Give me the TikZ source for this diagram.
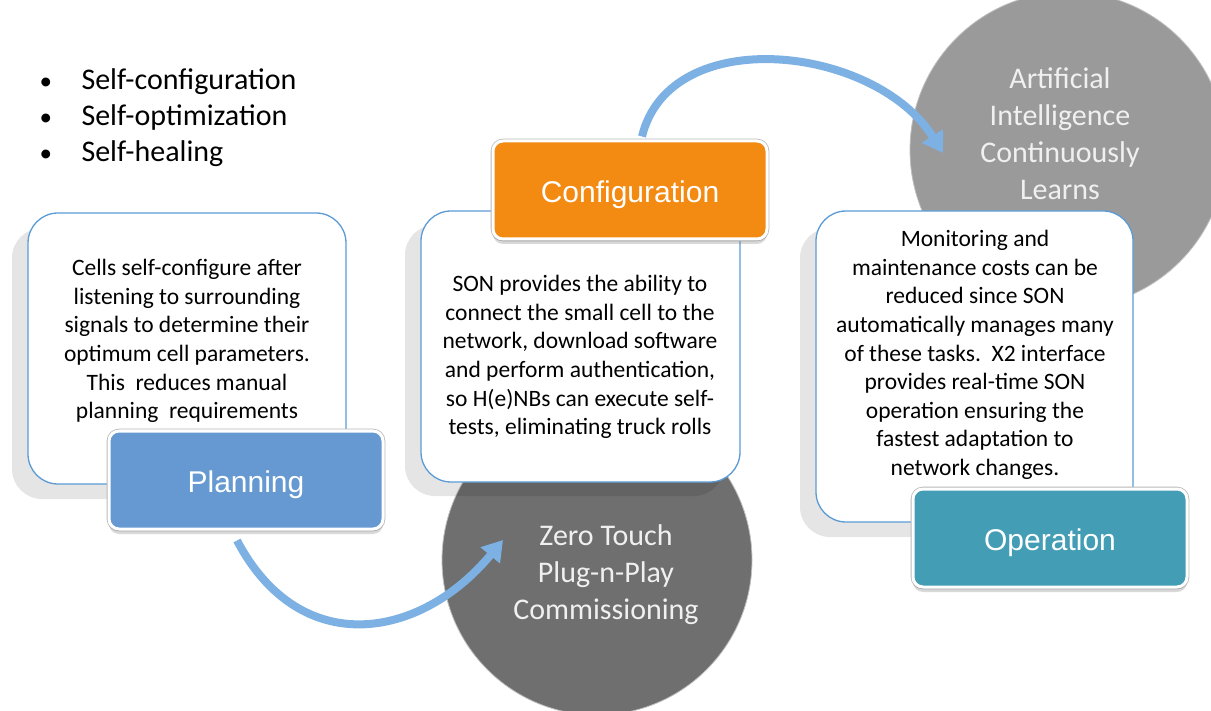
\documentclass[tikz,border=0pt]{standalone}
\usepackage{fontspec}
\setmainfont{Carlito}
\newfontfamily\labelfont{Liberation Sans}
\usetikzlibrary{arrows.meta,shadows}

\definecolor{boxblue}{HTML}{5B9BD5}
\definecolor{planblue}{HTML}{6699D1}
\definecolor{cfgorange}{HTML}{F38A12}
\definecolor{opteal}{HTML}{429DB5}
\definecolor{hubdark}{HTML}{6F6F6F}
\definecolor{hublight}{HTML}{9A9A9A}
\definecolor{flowblue}{HTML}{7DB1E3}

\pgfdeclarelayer{discs}
\pgfdeclarelayer{cards}
\pgfdeclarelayer{flows}
\pgfsetlayers{discs,cards,flows,main}

\newcommand{\stagename}[1]{\raisebox{-5pt}[\height][\depth]{#1}}
\newcommand{\dotmark}{\makebox[42pt][l]{\fontsize{25}{36}\selectfont•}}

\tikzset{
  hub/.style={circle, inner sep=0pt, draw=black!25, line width=0.8pt},
  hubtext/.style={align=center, text=white!94!black,
    font=\fontsize{30}{37}\selectfont},
  backshade/.style={fill=black, fill opacity=0.1, rounded corners=30pt},
  note/.style={draw=boxblue, line width=1.3pt, fill=white,
    rounded corners=30pt, inner sep=0pt},
  notetext/.style={align=center, font=\fontsize{23.5}{28.6}\selectfont},
  stage/.style={rounded corners=10pt, minimum width=274pt,
    minimum height=98pt, inner sep=0pt, text=white,
    font=\labelfont\fontsize{30}{36}\selectfont,
    draw=white, line width=3pt,
    preaction={draw=black!28, line width=4.6pt},
    drop shadow={opacity=0.3, shadow xshift=0pt, shadow yshift=-5pt}},
  flow/.style={draw=flowblue, line width=8pt,
    -{Triangle[length=20pt,width=24pt]}},
}

\begin{document}
\begin{tikzpicture}[x=1pt,y=-1pt]
\useasboundingbox (0,0) rectangle (1211,711);
\clip (0,0) rectangle (1211,711);

% the two learning / commissioning discs
\begin{pgfonlayer}{discs}
\node[hub, fill=hubdark, minimum size=310pt] (zt) at (597,560) {};
\node[hub, fill=hublight, minimum size=316pt] (ai) at (1068,150) {};
\end{pgfonlayer}

% soft panels and the description cards
\begin{pgfonlayer}{cards}
\path[backshade] (12,228) rectangle (330,499);
\path[backshade] (405,225) rectangle (724,496);
\path[backshade] (800,228) rectangle (1117,537);
\node[note, minimum width=318pt, minimum height=271pt] (plannote) at (187,348.5) {};
\node[note, minimum width=319pt, minimum height=271pt] (cfgnote) at (580.5,346.5) {};
\node[note, minimum width=317pt, minimum height=311pt] (opnote) at (974.5,366.5) {};
\end{pgfonlayer}

\node[notetext] (plantext) at (187,341) {Cells self-configure after\\
  listening to surrounding\\ signals to determine their\\
  optimum cell parameters.\\ This\ \ reduces manual\\ planning\ \ requirements};
\node[notetext] (cfgtext) at (580,357) {SON provides the ability to\\
  connect the small cell to the\\ network, download software\\
  and perform authentication,\\ so H(e)NBs can execute self-\\
  tests, eliminating truck rolls};
\node[notetext] (optext) at (975,355) {Monitoring and\\
  maintenance costs can be\\ reduced since SON\\
  automatically manages many\\ of these tasks.\ \ X2 interface\\
  provides real-time SON\\ operation ensuring the\\
  fastest adaptation to\\ network changes.};

% stage labels
\node[stage, fill=planblue] (plan) at (246,480) {\stagename{Planning}};
\node[stage, fill=cfgorange] (cfg) at (630,190) {\stagename{Configuration}};
\node[stage, fill=opteal] (op) at (1050,538) {\stagename{Operation}};

% connectors from the stages to the discs
\coordinate (p1) at ([xshift=-9pt,yshift=-10pt]plan.south);
\coordinate (z1) at ([xshift=-94pt,yshift=20pt]zt.center);
\coordinate (c1) at ([xshift=12pt,yshift=3pt]cfg.north);
\coordinate (a1) at ([xshift=-125pt,yshift=-3pt]ai.center);
\begin{pgfonlayer}{flows}
\path[flow] (p1) .. controls (300,660) and (420,640) .. (z1);
\path[flow] (c1) .. controls (670,22) and (875,45) .. (a1);
\end{pgfonlayer}

% disc captions
\node[hubtext] (zttext) at (606,575) {Zero Touch\\ Plug-n-Play\\ Commissioning};
\node[hubtext] (aitext) at (1060,134) {Artificial\\ Intelligence\\ Continuously\\ Learns};

% SON functions
\node[anchor=west, align=left, font=\fontsize{30}{36}\selectfont] (functions) at (36,118)
  {\dotmark Self-configuration\\
   \dotmark Self-optimization\\
   \dotmark Self-healing};
\end{tikzpicture}
\end{document}
